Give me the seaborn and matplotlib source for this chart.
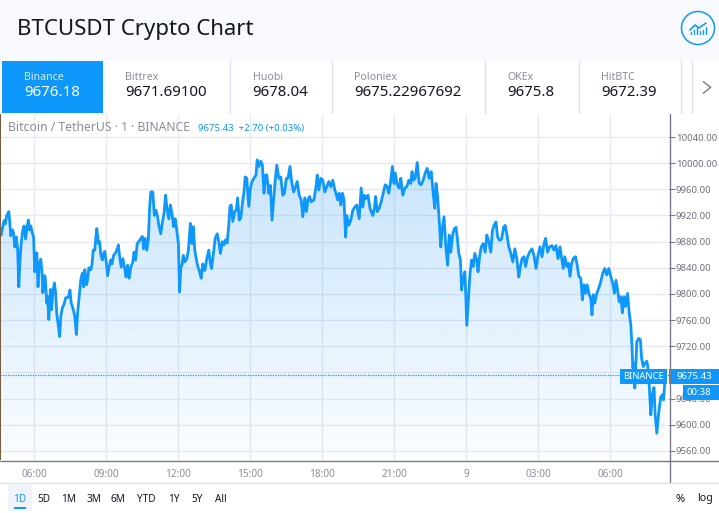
import numpy as np
import pandas as pd
import seaborn as sns
import matplotlib.pyplot as plt
from matplotlib.patches import Circle, Rectangle
from matplotlib.ticker import FuncFormatter

# minutes since midnight of the first day, price
minutes = [
    278, 281, 285, 288, 292, 297, 299, 302, 306, 309, 312, 316, 319, 322, 325, 328, 331, 335, 339, 342,
    346, 349, 352, 356, 359, 362, 367, 370, 373, 377, 380, 382, 386, 388, 392, 394, 397, 401, 404, 407,
    411, 414, 417, 421, 424, 427, 431, 435, 439, 446, 450, 453, 457, 462, 466, 469, 473, 477, 481, 484,
    487, 491, 494, 497, 502, 505, 508, 512, 514, 517, 521, 524, 527, 531, 534, 537, 541, 544, 548, 552,
    555, 559, 563, 567, 571, 574, 578, 582, 587, 590, 594, 598, 602, 607, 610, 614, 618, 622, 627, 631,
    634, 638, 642, 646, 649, 652, 657, 661, 665, 669, 672, 677, 681, 685, 689, 692, 697, 701, 705, 709,
    713, 717, 721, 724, 727, 730, 733, 737, 742, 746, 751, 755, 758, 762, 767, 770, 774, 778, 782, 787,
    792, 797, 801, 804, 808, 813, 818, 822, 826, 831,
    835, 839, 843, 847, 850, 853, 857, 862, 866, 869, 873, 877, 882, 885, 888, 892, 897, 901, 905, 910,
    915, 918, 922, 927, 931, 935, 939, 942, 947, 951, 955, 959, 963, 967, 972, 977, 982, 986, 991, 995,
    1000, 1004, 1009, 1013, 1018, 1023, 1028, 1032, 1037, 1041, 1045, 1049, 1053, 1060, 1065, 1068, 1072, 1077, 1082, 1087,
    1092, 1097, 1102, 1107, 1112,
    1115, 1119, 1123, 1127, 1131, 1135, 1139, 1142, 1147, 1152, 1157, 1162, 1167, 1173, 1178, 1182, 1186, 1190, 1195, 1200,
    1207, 1211, 1214, 1218, 1223, 1228, 1233, 1238, 1243, 1247, 1252, 1256, 1260, 1263, 1268, 1273, 1277, 1282, 1287, 1292,
    1297, 1302, 1305, 1309, 1313, 1318, 1323, 1328, 1333, 1338, 1343, 1348, 1353, 1358, 1362, 1365, 1369, 1373, 1377, 1380,
    1385, 1390, 1394,
    1395, 1398, 1402, 1407, 1411, 1415, 1418, 1422, 1426, 1429, 1432, 1437, 1439, 1442, 1447, 1450, 1454, 1458, 1462, 1467,
    1470, 1474, 1478, 1483, 1488, 1492, 1497, 1502, 1506, 1510, 1515, 1519, 1524, 1529, 1534, 1538, 1542, 1547, 1552, 1557,
    1562, 1567, 1572, 1576, 1580, 1585, 1589, 1594, 1599, 1605, 1610, 1615, 1620, 1625, 1630, 1635, 1639, 1644, 1649, 1655,
    1660, 1665, 1670,
    1675, 1679, 1683, 1687, 1692, 1696, 1700, 1704, 1709, 1714, 1718, 1722, 1727, 1731, 1735, 1739, 1743, 1748, 1752, 1755,
    1758, 1762, 1767, 1772, 1777, 1782, 1787, 1792, 1797, 1802, 1807, 1811, 1815, 1819, 1823, 1827, 1831, 1835, 1839, 1844,
    1848, 1852, 1855, 1857, 1860, 1862, 1865, 1867, 1872, 1876, 1879, 1883, 1887, 1892, 1895, 1898, 1902, 1906, 1910, 1913,
    1917, 1922, 1927, 1932, 1934, 1937,
]
prices = [
    9890, 9900, 9912, 9907, 9920, 9926, 9913, 9889, 9898, 9893, 9872, 9887, 9870, 9811, 9852, 9877, 9895, 9904, 9884, 9900,
    9913, 9898, 9904, 9893, 9887, 9834, 9863, 9811, 9845, 9853, 9834, 9802, 9828, 9826, 9786, 9796, 9761, 9807, 9776, 9802,
    9817, 9802, 9769, 9751, 9735, 9766, 9779, 9784, 9794, 9795, 9806, 9786, 9779, 9766, 9738, 9771, 9796, 9822, 9832, 9811,
    9837, 9814, 9822, 9840, 9837, 9845, 9867, 9867, 9883, 9900, 9877, 9880, 9860, 9852, 9862, 9865, 9847, 9828, 9842, 9852,
    9846, 9859, 9862, 9867, 9875, 9857, 9841, 9854, 9839, 9826, 9844, 9824, 9841, 9849, 9864, 9852, 9877, 9880, 9885, 9888,
    9869, 9885, 9867, 9885, 9931, 9956, 9956, 9920, 9928, 9918, 9905, 9892, 9910, 9923, 9951, 9933, 9915, 9936, 9923, 9903,
    9915, 9897, 9877, 9803, 9841, 9844, 9859, 9849, 9854, 9867, 9908, 9877, 9903, 9867, 9849, 9841, 9834, 9824, 9846, 9836,
    9854, 9867, 9846, 9839, 9859, 9885, 9892, 9880, 9862, 9880,
    9875, 9883, 9878, 9906, 9934, 9936, 9911, 9926, 9929, 9947, 9913, 9916, 9944, 9956, 9979, 9977, 9934, 9962, 9972, 9977,
    9982, 10005, 9995, 10003, 9997, 9954, 9982, 9982, 9954, 9966, 9913, 9944, 9974, 9997, 9977, 9979, 9951, 9954, 9977, 9977,
    9995, 9972, 9956, 9962, 9972, 9951, 9944, 9918, 9947, 9926, 9944, 9949, 9941, 9944, 9964, 9982, 9959, 9977, 9974, 9956,
    9964, 9972, 9964, 9974, 9959,
    9954, 9944, 9954, 9936, 9954, 9944, 9887, 9920, 9905, 9913, 9928, 9933, 9936, 9915, 9962, 9933, 9951, 9946, 9951, 9931,
    9920, 9931, 9949, 9926, 9931, 9941, 9954, 9967, 9964, 9954, 9974, 9995, 9969, 9985, 9967, 9962, 9977, 9951, 9962, 9964,
    9974, 9969, 9987, 9974, 9977, 10001, 9969, 9967, 9974, 9985, 9992, 9977, 9987, 9954, 9931, 9969, 9949, 9913, 9872, 9897,
    9918, 9869, 9844,
    9854, 9890, 9864, 9892, 9900, 9902, 9887, 9862, 9852, 9806, 9821, 9834, 9806, 9752, 9801, 9831, 9852, 9842, 9862, 9852,
    9834, 9857, 9872, 9877, 9864, 9890, 9880, 9864, 9897, 9905, 9910, 9887, 9882, 9884, 9902, 9905, 9892, 9872, 9862, 9849,
    9869, 9854, 9826, 9842, 9854, 9857, 9842, 9857, 9864, 9869, 9859, 9839, 9859, 9872, 9857, 9877, 9885, 9864, 9872, 9874,
    9867, 9874, 9854,
    9872, 9855, 9839, 9857, 9842, 9847, 9827, 9847, 9855, 9857, 9844, 9827, 9824, 9791, 9814, 9801, 9814, 9799, 9793, 9768,
    9799, 9786, 9801, 9809, 9819, 9832, 9839, 9829, 9839, 9827, 9816, 9801, 9821, 9806, 9788, 9796, 9771, 9796, 9781, 9801,
    9771, 9753, 9720, 9687, 9694, 9656, 9697, 9727, 9732, 9730, 9702, 9689, 9694, 9697, 9687, 9661, 9615, 9646, 9657, 9615,
    9587, 9620, 9643, 9646, 9638, 9666,
]
last_price = 9675.43

price_ticks = [9560, 9600, 9640, 9680, 9720, 9760, 9800, 9840, 9880, 9920, 9960, 10000, 10040]
time_ticks = [360, 540, 720, 900, 1080, 1260, 1440, 1620, 1800]
time_labels = ["06:00", "09:00", "12:00", "15:00", "18:00", "21:00", "9", "03:00", "06:00"]

exchanges = ["Binance", "Bittrex", "Huobi", "Poloniex", "OKEx", "HitBTC"]
exchange_prices = ["9676.18", "9671.69100", "9678.04", "9675.22967692", "9675.8", "9672.39"]
exchange_x = [24, 125.5, 252.5, 354, 507.5, 601.5]
ranges = ["1D", "5D", "1M", "3M", "6M", "YTD", "1Y", "5Y", "All"]
range_x = [20, 44, 69, 94, 118, 146, 174, 197, 221]

BLUE = "#0f98fb"
GRID = "#e9eaf1"
AXIS = "#787b86"
TEXT = "#131722"
GREY = "#8a8d99"

sns.set_style("white")
plt.rcParams["font.family"] = ["Noto Sans", "DejaVu Sans"]

W, H = 719, 513
fig = plt.figure(figsize=(W / 100, H / 100), dpi=100, facecolor="white")
ax = fig.add_axes([0, (H - 461) / H, 669 / W, (461 - 114) / H])

df = pd.DataFrame({"minute": minutes, "price": prices})
sns.lineplot(data=df, x="minute", y="price", ax=ax, color=BLUE, linewidth=2.0,
             estimator=None, sort=False, zorder=4)

xlim = (275, 1947.5)
ylim = (9544.6, 10075.2)

# gradient under the line
area = ax.fill_between(df["minute"], df["price"], ylim[0], facecolor="none", edgecolor="none")
rgba = np.zeros((256, 1, 4))
rgba[..., 0], rgba[..., 1], rgba[..., 2] = 33 / 255, 150 / 255, 243 / 255
rgba[..., 3] = np.linspace(0.27, 0.015, 256)[:, None]
grad = ax.imshow(rgba, extent=[xlim[0], xlim[1], ylim[0], 10040], origin="upper",
                 aspect="auto", zorder=3, interpolation="bilinear")
grad.set_clip_path(area.get_paths()[0], transform=ax.transData)

ax.axhline(last_price, color=BLUE, linewidth=0.9, linestyle=(0, (1, 1)), zorder=5)

ax.set_xlim(xlim)
ax.set_ylim(ylim)
ax.set_xlabel("")
ax.set_ylabel("")
ax.set_xticks(time_ticks)
ax.set_xticklabels(time_labels)
ax.set_yticks(price_ticks)
ax.yaxis.tick_right()
ax.yaxis.set_major_formatter(FuncFormatter(lambda v, p: f"{v:.2f}"))
ax.grid(True, color=GRID, linewidth=1.0, zorder=1)
ax.set_axisbelow(True)
ax.tick_params(axis="x", length=0, pad=6, labelsize=7.2, labelcolor=GREY)
ax.tick_params(axis="y", right=True, length=4, width=0.8, color=AXIS, pad=1, labelsize=6.9, labelcolor="#6f727d")
sns.despine(ax=ax, left=True, bottom=True, right=True, top=True)

# page furniture in pixel coordinates
ui = fig.add_axes([0, 0, 1, 1], zorder=10)
ui.set_xlim(0, W)
ui.set_ylim(H, 0)
ui.axis("off")
ui.patch.set_alpha(0)

ui.add_patch(Rectangle((0, 0), W, 61, facecolor="#f8f9fd", edgecolor="none"))
ui.add_patch(Rectangle((0, 114), 1, 346, facecolor="#7a5a3c", edgecolor="none"))
ui.text(17, 29.5, "BTCUSDT Crypto Chart", fontsize=16, color=TEXT, va="center")

ui.add_patch(Circle((698, 28), 16.5, facecolor="none", edgecolor=BLUE, linewidth=1.1))
ui.plot([690, 695, 699, 706], [30, 25, 28, 23], color=BLUE, linewidth=1.2)
for bx, bh in zip([691, 694, 697, 700, 703, 705.5], [2, 4, 6, 3, 4, 7]):
    ui.plot([bx, bx], [33.5 - bh, 33.5], color=BLUE, linewidth=1.0)

ui.add_patch(Rectangle((2, 61), 101, 52, facecolor=BLUE, edgecolor="none"))
for dx in [229.5, 331.5, 484.5, 578.5, 680.5, 691.5]:
    ui.plot([dx, dx], [61, 113], color="#dfe1ea", linewidth=1)
for i, name in enumerate(exchanges):
    ui.text(exchange_x[i], 77.5, name, fontsize=7.6, va="center", color="#d8ecff" if i == 0 else GREY)
    ui.text(exchange_x[i], 92.5, exchange_prices[i], fontsize=10.8, va="center", color="white" if i == 0 else TEXT)
ui.plot([703.3, 710.7, 703.3], [81.7, 87.3, 93.3], color=AXIS, linewidth=1)

ui.text(8, 127.5, "Bitcoin / TetherUS · 1 · BINANCE", fontsize=8.8, color=GREY, va="center")
ui.text(198, 128.5, "9675.43  +2.70 (+0.03%)", fontsize=6.9, color=BLUE, va="center")

# axis lines
ui.plot([0, W], [461, 461], color=AXIS, linewidth=1)
ui.plot([669.5, 669.5], [114, 482], color=AXIS, linewidth=1)
ui.plot([0, W], [482.5, 482.5], color="#e0e3eb", linewidth=1)

# last price labels
ui.add_patch(Rectangle((620, 369), 47, 15, facecolor=BLUE, edgecolor="none"))
ui.text(643.5, 376.5, "BINANCE", fontsize=6.8, color="white", ha="center", va="center")
ui.add_patch(Rectangle((669, 368.5), 50, 15.5, facecolor=BLUE, edgecolor="none"))
ui.text(694, 376.5, f"{last_price:.2f}", fontsize=6.9, color="white", ha="center", va="center")
ui.add_patch(Rectangle((683, 385), 36, 15, facecolor=BLUE, edgecolor="none"))
ui.text(699, 392.5, "00:38", fontsize=6.9, color="white", ha="center", va="center")

# range buttons
ui.add_patch(Rectangle((8, 485), 24, 26, facecolor="#f0f3fa", edgecolor="none"))
ui.add_patch(Rectangle((14, 507), 12, 2, facecolor=BLUE, edgecolor="none"))
for i, label in enumerate(ranges):
    ui.text(range_x[i], 499, label, fontsize=7.2, ha="center", va="center", color=BLUE if i == 0 else TEXT)
ui.text(680, 499, "%", fontsize=8, ha="center", va="center", color=TEXT)
ui.text(705, 499, "log", fontsize=7.6, ha="center", va="center", color=TEXT)

fig.savefig("out.png", dpi=100)
